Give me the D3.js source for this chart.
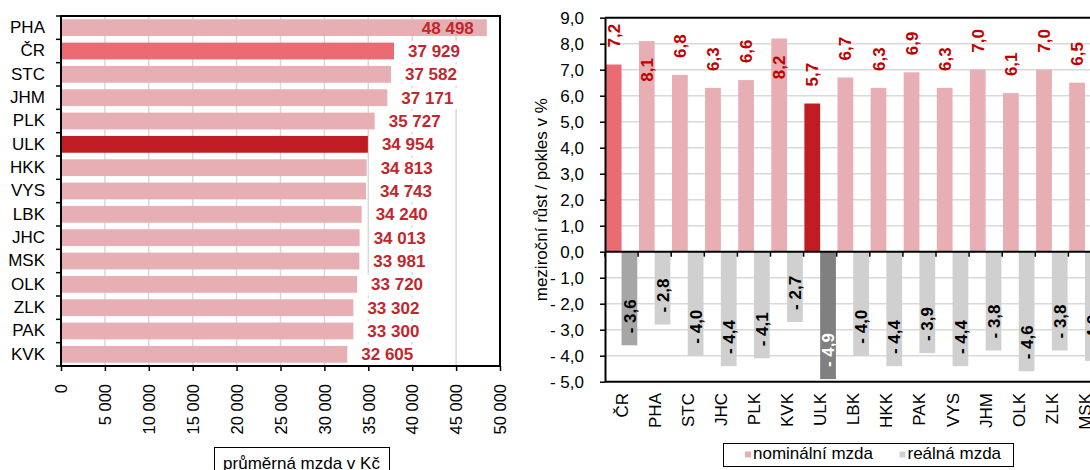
<!DOCTYPE html>
<html>
<head>
<meta charset="utf-8">
<script src="https://cdn.jsdelivr.net/npm/d3@7/dist/d3.min.js"></script>
<style>
    body { margin: 0; background: #fff; }
</style>
</head>
<body>
<svg id="chart" width="1090" height="470"></svg>
<script>
// left panel: average wage by region
const regions = ["PHA", "ČR", "STC", "JHM", "PLK", "ULK", "HKK", "VYS", "LBK", "JHC", "MSK", "OLK", "ZLK", "PAK", "KVK"];
const wages = [48498, 37929, 37582, 37171, 35727, 34954, 34813, 34743, 34240, 34013, 33981, 33720, 33302, 33300, 32605];
const wageTicks = [0, 5000, 10000, 15000, 20000, 25000, 30000, 35000, 40000, 45000, 50000];

// right panel: year-on-year change
const growthRegions = ["ČR", "PHA", "STC", "JHC", "PLK", "KVK", "ULK", "LBK", "HKK", "PAK", "VYS", "JHM", "OLK", "ZLK", "MSK"];
const nominal = [7.2, 8.1, 6.8, 6.3, 6.6, 8.2, 5.7, 6.7, 6.3, 6.9, 6.3, 7.0, 6.1, 7.0, 6.5];
const real = [-3.6, -2.8, -4.0, -4.4, -4.1, -2.7, -4.9, -4.0, -4.4, -3.9, -4.4, -3.8, -4.6, -3.8, -4.2];
const growthTicks = [-5, -4, -3, -2, -1, 0, 1, 2, 3, 4, 5, 6, 7, 8, 9];
const seriesNames = ["nominální mzda", "reálná mzda"];

const FONT = "'Liberation Sans', Arial, sans-serif";
const colors = {
    pink: "#e7afb3", cr: "#eb6b73", ulk: "#c01c24",
    grey: "#d0d0d0", crGrey: "#a6a6a6", ulkGrey: "#808080",
    grid: "#d9d9d9", labelLeft: "#c1272d", labelRight: "#c00000"
};

const locale = d3.formatLocale({decimal: ",", thousands: " ", grouping: [3], currency: ["", " Kč"]});
const fmtInt = locale.format(",d");
const fmtDec = locale.format(".1f");
const fmtSigned = v => v < 0 ? "- " + fmtDec(-v) : fmtDec(v);

const svg = d3.select("#chart").attr("font-family", FONT);
svg.append("rect").attr("width", 1090).attr("height", 470).attr("fill", "#fff");

function nominalColor(c) {
    return c === "ČR" ? colors.cr : c === "ULK" ? colors.ulk : colors.pink;
}
function realColor(c) {
    return c === "ČR" ? colors.crGrey : c === "ULK" ? colors.ulkGrey : colors.grey;
}

/* ================= left chart ================= */
const x = d3.scaleLinear().domain([0, 50000]).range([61, 500]);
const y = d3.scaleBand().domain(regions).range([16, 366]).paddingInner(0.28).paddingOuter(0.14);
const left = svg.append("g");

left.append("g")
    .selectAll("line")
    .data(wageTicks.slice(1, -1)).enter()
    .append("line")
    .attr("x1", d => x(d)).attr("x2", d => x(d))
    .attr("y1", 16).attr("y2", 366)
    .attr("stroke", colors.grid)
    .attr("stroke-width", 1.5);

left.append("g")
    .selectAll("rect")
    .data(regions).enter()
    .append("rect")
    .attr("x", x(0))
    .attr("y", d => y(d))
    .attr("width", (d, i) => x(wages[i]) - x(0))
    .attr("height", y.bandwidth())
    .attr("fill", nominalColor);

// value labels with white box behind, inside end when they would not fit
const wageLabels = left.append("g");
regions.forEach((r, i) => {
    const g = wageLabels.append("g");
    const end = x(wages[i]);
    const t = g.append("text")
        .attr("y", y(r) + y.bandwidth() / 2)
        .attr("dy", "0.36em")
        .attr("font-size", 17)
        .attr("font-weight", "bold")
        .attr("fill", colors.labelLeft)
        .text(fmtInt(wages[i]));
    const w = t.node().getComputedTextLength();
    if (end + 14 + w > x.range()[1] - 4) {
        t.attr("x", end - 13).attr("text-anchor", "end");
    } else {
        t.attr("x", end + 14);
        const b = t.node().getBBox();
        g.insert("rect", "text")
            .attr("x", b.x - 4).attr("y", b.y - 1)
            .attr("width", b.width + 8).attr("height", b.height + 2)
            .attr("fill", "#fff");
    }
});

const yAxisLeft = left.append("g")
    .attr("transform", `translate(${x(0)},0)`)
    .call(d3.axisLeft(y).tickSize(0).tickPadding(16));
yAxisLeft.select(".domain").remove();
yAxisLeft.attr("font-family", FONT).attr("font-size", 17);

// category boundary ticks
left.append("g")
    .selectAll("line")
    .data(d3.range(regions.length + 1)).enter()
    .append("line")
    .attr("x1", x(0) - 5).attr("x2", x(0))
    .attr("y1", i => y.range()[0] + i * y.step())
    .attr("y2", i => y.range()[0] + i * y.step())
    .attr("stroke", "#000").attr("stroke-width", 1.5);

const xAxisLeft = left.append("g")
    .attr("transform", "translate(0,366)")
    .call(d3.axisBottom(x).tickValues(wageTicks).tickSize(5).tickSizeOuter(0).tickFormat(fmtInt));
xAxisLeft.select(".domain").remove();
xAxisLeft.attr("font-family", FONT).attr("font-size", 16.5);
xAxisLeft.selectAll("line").attr("stroke-width", 1.5);
xAxisLeft.selectAll("text")
    .attr("transform", "rotate(-90)")
    .attr("text-anchor", "end")
    .attr("x", -18).attr("y", 0)
    .attr("dy", "0.35em");

left.append("rect")
    .attr("x", 61).attr("y", 16)
    .attr("width", 439).attr("height", 350)
    .attr("fill", "none").attr("stroke", "#000").attr("stroke-width", 2);

left.append("rect")
    .attr("x", 214.5).attr("y", 447.5)
    .attr("width", 175).attr("height", 34)
    .attr("fill", "#fff").attr("stroke", "#000").attr("stroke-width", 1);
left.append("text")
    .attr("x", 301.5).attr("y", 469)
    .attr("text-anchor", "middle")
    .attr("font-size", 17)
    .text("průměrná mzda v Kč");

/* ================= right chart ================= */
const xb = d3.scaleBand().domain(growthRegions).range([605, 605 + growthRegions.length * 33.1]);
const sub = d3.scaleBand().domain(["nom", "real"]).range([0, xb.bandwidth()]).paddingOuter(0.05);
const yg = d3.scaleLinear().domain([-5, 9]).range([381.7, 17.7]);
const plotRight = xb.range()[1];
const right = svg.append("g");

right.append("g")
    .selectAll("line")
    .data(growthTicks.filter(d => d !== 0 && d !== -5 && d !== 9)).enter()
    .append("line")
    .attr("x1", 605).attr("x2", plotRight)
    .attr("y1", d => yg(d)).attr("y2", d => yg(d))
    .attr("stroke", colors.grid)
    .attr("stroke-width", 1.5);

right.append("g")
    .selectAll("rect")
    .data(growthRegions).enter()
    .append("rect")
    .attr("x", d => xb(d) + sub("nom"))
    .attr("y", (d, i) => yg(nominal[i]))
    .attr("width", sub.bandwidth())
    .attr("height", (d, i) => yg(0) - yg(nominal[i]))
    .attr("fill", nominalColor);

right.append("g")
    .selectAll("rect")
    .data(growthRegions).enter()
    .append("rect")
    .attr("x", d => xb(d) + sub("real"))
    .attr("y", yg(0))
    .attr("width", sub.bandwidth())
    .attr("height", (d, i) => yg(real[i]) - yg(0))
    .attr("fill", realColor);

// frame lines: top, zero, bottom
[9, 0, -5].forEach(v => {
    right.append("line")
        .attr("x1", 605).attr("x2", plotRight)
        .attr("y1", yg(v)).attr("y2", yg(v))
        .attr("stroke", "#000").attr("stroke-width", 2);
});

right.append("g")
    .selectAll("line")
    .data(d3.range(growthRegions.length + 1)).enter()
    .append("line")
    .attr("x1", i => 605 + i * xb.step()).attr("x2", i => 605 + i * xb.step())
    .attr("y1", yg(0)).attr("y2", yg(0) + 5)
    .attr("stroke", "#000").attr("stroke-width", 1.5);

const yAxisRight = right.append("g")
    .attr("transform", "translate(605,0)")
    .call(d3.axisLeft(yg).tickValues(growthTicks).tickSize(5).tickSizeOuter(0).tickPadding(16).tickFormat(fmtSigned));
yAxisRight.attr("font-family", FONT).attr("font-size", 17);
yAxisRight.select(".domain").attr("stroke-width", 2);
yAxisRight.selectAll("line").attr("stroke-width", 1.5);

// nominal labels, rotated, outside end unless they run past the top
const nomLabels = right.append("g");
growthRegions.forEach((c, i) => {
    const cx = xb(c) + sub("nom") + sub.bandwidth() / 2;
    const top = yg(nominal[i]);
    const t = nomLabels.append("text")
        .attr("font-size", 17)
        .attr("font-weight", "bold")
        .attr("fill", colors.labelRight)
        .attr("dy", "0.36em")
        .text(fmtDec(nominal[i]));
    const len = t.node().getComputedTextLength();
    if (top - 17 - len < yg(9)) {
        t.attr("text-anchor", "end").attr("transform", `translate(${cx},${top + 17}) rotate(-90)`);
    } else {
        t.attr("text-anchor", "start").attr("transform", `translate(${cx},${top - 17}) rotate(-90)`);
    }
});

right.append("g")
    .selectAll("text")
    .data(growthRegions).enter()
    .append("text")
    .attr("transform", (d, i) => `translate(${xb(d) + sub("real") + sub.bandwidth() / 2},${yg(real[i]) - 12}) rotate(-90)`)
    .attr("dy", "0.36em")
    .attr("font-size", 17)
    .attr("font-weight", "bold")
    .attr("fill", d => d === "ULK" ? "#fff" : "#000")
    .text((d, i) => fmtSigned(real[i]));

right.append("g")
    .selectAll("text")
    .data(growthRegions).enter()
    .append("text")
    .attr("transform", d => `translate(${xb(d) + xb.bandwidth() / 2},393) rotate(-90)`)
    .attr("text-anchor", "end")
    .attr("dy", "0.35em")
    .attr("font-size", 17)
    .text(d => d);

right.append("text")
    .attr("transform", `translate(541,${(yg(9) + yg(-5)) / 2}) rotate(-90)`)
    .attr("text-anchor", "middle")
    .attr("dy", "0.35em")
    .attr("font-size", 17)
    .text("meziroční růst / pokles v %");

// legend
const legend = right.append("g");
legend.append("rect")
    .attr("x", 723.5).attr("y", 443.5)
    .attr("width", 290).attr("height", 23)
    .attr("fill", "#fff").attr("stroke", "#000").attr("stroke-width", 1);
[[745, colors.pink], [899.5, colors.grey]].forEach(([lx, col], i) => {
    legend.append("rect")
        .attr("x", lx).attr("y", 451.5)
        .attr("width", 6).attr("height", 6)
        .attr("fill", col);
    legend.append("text")
        .attr("x", lx + 8).attr("y", 458.5)
        .attr("font-size", 17)
        .text(seriesNames[i]);
});
</script>
</body>
</html>
